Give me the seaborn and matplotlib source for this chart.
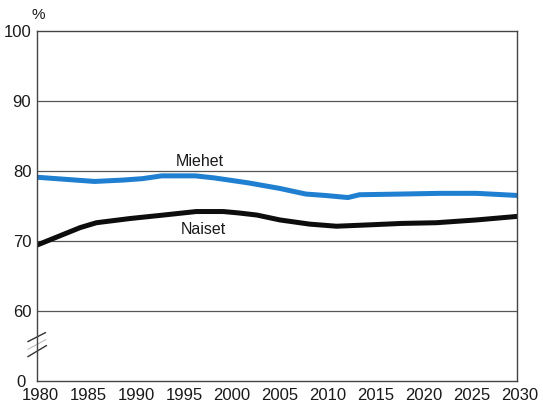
import matplotlib
matplotlib.use("Agg")
import matplotlib.pyplot as plt
import matplotlib.transforms as mtransforms
import seaborn as sns
import pandas as pd

years_m = [1980, 1983, 1986, 1989, 1991, 1993, 1996.5, 1998.5, 2000, 2002, 2005.3, 2008, 2010, 2012.4, 2013.6, 2018, 2022, 2025.8, 2030]
miehet = [79.1, 78.8, 78.5, 78.7, 78.9, 79.3, 79.3, 79.0, 78.7, 78.3, 77.5, 76.7, 76.5, 76.2, 76.6, 76.7, 76.8, 76.8, 76.5]
years_n = [1980, 1982.7, 1984.5, 1986.2, 1989.7, 1993.2, 1996.6, 1999.4, 2001, 2002.9, 2005.3, 2008.4, 2011.2, 2014.7, 2018, 2021.6, 2025.8, 2030]
naiset = [69.4, 70.9, 71.9, 72.6, 73.2, 73.7, 74.2, 74.2, 74.0, 73.7, 73.0, 72.4, 72.1, 72.3, 72.5, 72.6, 73.0, 73.5]

ytick_vals = [50, 60, 70, 80, 90, 100]
ytick_labels = ["0", "60", "70", "80", "90", "100"]
xticks = list(range(1980, 2031, 5))

sns.set_style("white")
plt.rcParams['font.family'] = ['Liberation Sans', 'DejaVu Sans']

fig = plt.figure(figsize=(5.43, 4.03), dpi=100)
ax = fig.add_axes([0.068, 0.055, 0.884, 0.868])

df_m = pd.DataFrame({"Vuosi": years_m, "Arvo": miehet})
df_n = pd.DataFrame({"Vuosi": years_n, "Arvo": naiset})
sns.lineplot(data=df_m, x="Vuosi", y="Arvo", ax=ax, color="#1f7fd1", linewidth=3.6)
sns.lineplot(data=df_n, x="Vuosi", y="Arvo", ax=ax, color="#0d0d0d", linewidth=3.6)
for ln in ax.lines:
    ln.set_solid_joinstyle("round")

ax.set_xlim(1980, 2030)
ax.set_ylim(50, 100)
ax.set_yticks(ytick_vals)
ax.set_yticklabels(ytick_labels)
ax.set_xticks(xticks)
ax.set_xticklabels([str(x) for x in xticks])
ax.set_xlabel("")
ax.set_ylabel("")
for v in [60, 70, 80, 90]:
    ax.axhline(v, color="#555555", linewidth=0.9, zorder=0)
for s in ax.spines.values():
    s.set_color("#444444")
    s.set_linewidth(1.0)
ax.tick_params(axis="x", direction="in", length=5, width=0.9, color="#444444",
               labelsize=12, pad=5, labelcolor="#1a1a1a")
ax.tick_params(axis="y", length=0, labelsize=12, pad=4, labelcolor="#1a1a1a")

# shift the "0" label a bit left as in the reference
zero_lbl = ax.get_yticklabels()[0]
zero_lbl.set_transform(zero_lbl.get_transform() + mtransforms.ScaledTranslation(-6/100, 0, fig.dpi_scale_trans))
# shift x labels slightly right
for lbl in ax.get_xticklabels():
    lbl.set_transform(lbl.get_transform() + mtransforms.ScaledTranslation(3/100, 0, fig.dpi_scale_trans))

ax.text(1997.0, 81.4, "Miehet", fontsize=11.5, color="#1a1a1a", ha="center", va="center")
ax.text(1997.3, 71.6, "Naiset", fontsize=11.5, color="#1a1a1a", ha="center", va="center")
ax.text(0.002, 1.046, "%", transform=ax.transAxes, fontsize=11, color="#1a1a1a", ha="center", va="center")

# axis break marks
ax.plot([-0.019, 0.018], [0.112, 0.138], transform=ax.transAxes, color="#333333", lw=1.0, clip_on=False)
ax.plot([-0.019, 0.020], [0.069, 0.101], transform=ax.transAxes, color="#333333", lw=1.0, clip_on=False)
ax.plot([-0.019, 0.019], [0.090, 0.118], transform=ax.transAxes, color="#bbbbbb", lw=0.8, clip_on=False)

fig.savefig("out.png", dpi=100)
